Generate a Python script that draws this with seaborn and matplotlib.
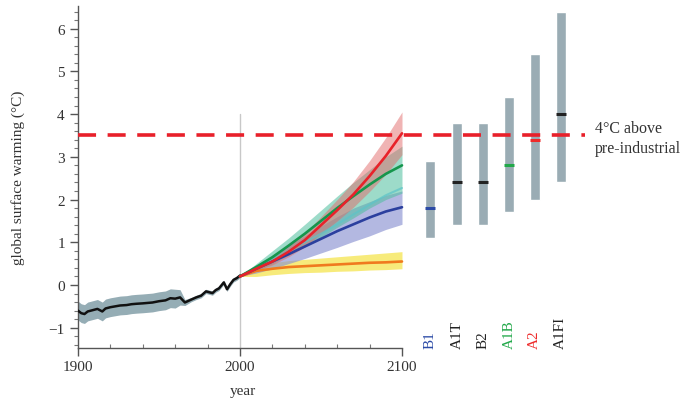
import numpy as np
import pandas as pd
import matplotlib
matplotlib.use("Agg")
import matplotlib.pyplot as plt
import seaborn as sns

sns.set_theme(style="white")
plt.rcParams['font.family'] = ['Liberation Serif', 'DejaVu Serif']

# ---------------- data ----------------
hist_years = [1900, 1902, 1904, 1906, 1908, 1910, 1912, 1915, 1917, 1920, 1923, 1926, 1930,
              1933, 1936, 1940, 1943, 1946, 1950, 1954, 1957, 1960, 1963, 1966, 1970,
              1973, 1976, 1979, 1983, 1985, 1987, 1990, 1992, 1994, 1996, 1998, 2000]
hist_vals = [-0.60, -0.66, -0.68, -0.62, -0.60, -0.58, -0.56, -0.62, -0.55, -0.52, -0.50, -0.48, -0.47,
             -0.45, -0.44, -0.43, -0.42, -0.41, -0.38, -0.36, -0.31, -0.32, -0.29, -0.41, -0.34,
             -0.29, -0.25, -0.15, -0.19, -0.12, -0.08, 0.06, -0.10, 0.02, 0.12, 0.16, 0.22]
hist_band = [0.22] * 22 + [0.18, 0.07] + [0.05] * 13

proj_years = [2000, 2010, 2020, 2030, 2040, 2050, 2060, 2070, 2080, 2090, 2100]
a2_mean = [0.20, 0.38, 0.55, 0.78, 1.05, 1.40, 1.75, 2.12, 2.55, 3.02, 3.55]
a2_lo = [0.20, 0.33, 0.47, 0.66, 0.89, 1.20, 1.50, 1.82, 2.19, 2.59, 3.05]
a2_hi = [0.20, 0.43, 0.63, 0.90, 1.21, 1.60, 2.00, 2.42, 2.91, 3.45, 4.05]
a1b_mean = [0.20, 0.42, 0.65, 0.92, 1.20, 1.50, 1.80, 2.08, 2.35, 2.60, 2.80]
a1b_lo = [0.20, 0.33, 0.50, 0.70, 0.90, 1.12, 1.35, 1.57, 1.80, 2.00, 2.15]
a1b_hi = [0.20, 0.50, 0.80, 1.10, 1.42, 1.75, 2.08, 2.40, 2.70, 3.00, 3.25]
b1_mean = [0.20, 0.38, 0.55, 0.72, 0.90, 1.08, 1.26, 1.42, 1.58, 1.72, 1.82]
b1_lo = [0.20, 0.28, 0.38, 0.50, 0.62, 0.75, 0.88, 1.02, 1.15, 1.30, 1.42]
b1_hi = [0.20, 0.45, 0.70, 0.93, 1.15, 1.38, 1.60, 1.80, 1.95, 2.10, 2.20]
mid_line = [0.20, 0.40, 0.60, 0.80, 1.00, 1.20, 1.42, 1.65, 1.88, 2.10, 2.27]
const_mean = [0.20, 0.33, 0.38, 0.42, 0.44, 0.46, 0.48, 0.50, 0.52, 0.53, 0.55]
const_lo = [0.20, 0.20, 0.24, 0.27, 0.29, 0.30, 0.32, 0.33, 0.35, 0.36, 0.38]
const_hi = [0.20, 0.45, 0.52, 0.57, 0.60, 0.63, 0.66, 0.69, 0.72, 0.75, 0.78]

scenarios = ["B1", "A1T", "B2", "A1B", "A2", "A1FI"]
scen_x = [2117, 2134, 2150, 2166, 2182, 2198]
scen_low = [1.1, 1.4, 1.4, 1.7, 2.0, 2.4]
scen_high = [2.9, 3.8, 3.8, 4.4, 5.4, 6.4]
scen_best = [1.8, 2.4, 2.4, 2.8, 3.4, 4.0]
scen_colors = ["#2b4aa6", "#222222", "#222222", "#22a84a", "#ee2a2a", "#222222"]

threshold = 3.5
yticks = [-1, 0, 1, 2, 3, 4, 5, 6]
xticks = [1900, 2000, 2100]

# ---------------- figure ----------------
W, H = 693, 402
fig = plt.figure(figsize=(W / 100, H / 100), dpi=100)
ax = fig.add_axes([78 / W, (H - 349) / H, (W - 78) / W, (349 - 7) / H])
ax.set_facecolor("white")

x_per_px = 1 / 1.62
ax.set_xlim(1900, 1900 + (W - 78) * x_per_px)
ax.set_ylim(-1.475, 6.53)

# historical
hdf = pd.DataFrame({"year": hist_years, "temp": hist_vals})
hb = np.array(hist_band)
ax.fill_between(hist_years, np.array(hist_vals) - hb, np.array(hist_vals) + hb,
                color="#8aa4ad", alpha=0.9, lw=0, zorder=2)
sns.lineplot(data=hdf, x="year", y="temp", ax=ax, color="#111111", lw=1.8, zorder=5)

# projection bands
ax.fill_between(proj_years, const_lo, const_hi, color="#f6e65a", alpha=0.8, lw=0, zorder=2)
ax.fill_between(proj_years, b1_lo, b1_hi, color="#8a92d2", alpha=0.65, lw=0, zorder=2)
ax.fill_between(proj_years, a1b_lo, a1b_hi, color="#4dbf9e", alpha=0.55, lw=0, zorder=3)
ax.fill_between(proj_years, a2_lo, a2_hi, color="#e26a6a", alpha=0.5, lw=0, zorder=3)

pdf = pd.DataFrame({"year": proj_years * 4,
                    "temp": const_mean + b1_mean + a1b_mean + a2_mean,
                    "series": ["const"] * 11 + ["B1"] * 11 + ["A1B"] * 11 + ["A2"] * 11})
pal = {"const": "#f07a1e", "B1": "#2b3f9e", "A1B": "#15964c", "A2": "#e8222a"}
ax.plot(proj_years, mid_line, color="#5cc4c8", lw=1.5, alpha=0.7, zorder=4)
sns.lineplot(data=pdf, x="year", y="temp", hue="series", palette=pal, ax=ax,
             lw=1.9, legend=False, zorder=6)

# vertical grey line at 2000
ax.plot([2000, 2000], [-1.475, 4.0], color="#c8c8c8", lw=1.0, zorder=1)

# threshold line
ax.plot([1900, 2213], [threshold, threshold], color="#e8202a", lw=2.6,
        dashes=(5, 3.2), zorder=7)
ax.text(2219, threshold - 0.06, "4°C above\npre-industrial", fontsize=11.5,
        color="#333333", va="center", ha="left", linespacing=1.3)

# scenario bars
bdf = pd.DataFrame({"scenario": scenarios, "x": scen_x, "low": scen_low,
                    "high": scen_high, "best": scen_best})
ax.bar(bdf["x"], bdf["high"] - bdf["low"], bottom=bdf["low"], width=6.2,
       color="#9aacb4", zorder=4)
for x, b, c in zip(scen_x, scen_best, scen_colors):
    ax.plot([x - 3.1, x + 3.1], [b, b], color=c, lw=2.2, solid_capstyle="butt", zorder=8)
for x, s, c in zip(scen_x, scenarios, scen_colors):
    ax.text(x, -1.47, s, rotation=90, ha="center", va="bottom", fontsize=11, color=c)

# axes styling
sns.despine(ax=ax, top=True, right=True)
ax.spines["bottom"].set_bounds(1900, 2100)
ax.spines["left"].set_bounds(-1.475, 6.53)
for sp in ("left", "bottom"):
    ax.spines[sp].set_color("#555555")
    ax.spines[sp].set_linewidth(1.0)
ax.set_xticks(xticks)
ax.set_xticks([y for y in range(1920, 2100, 20)], minor=True)
ax.set_yticks(yticks)
ax.set_yticks([v / 5 for v in range(-7, 33) if v % 5 != 0], minor=True)
ax.set_yticklabels(["−1" if v == -1 else str(v) for v in yticks])
ax.tick_params(axis="both", which="both", bottom=True, left=True, top=False, right=False)
ax.tick_params(axis="both", which="major", direction="out", length=6, width=1.0,
               color="#555555", labelsize=11, labelcolor="#333333")
ax.tick_params(axis="y", which="minor", direction="out", length=3, width=0.8, color="#777777")
ax.tick_params(axis="x", which="minor", direction="in", length=3, width=0.8, color="#777777")
ax.tick_params(axis="x", which="major", pad=3)
ax.set_xlabel("")
ax.set_ylabel("")

fig.text(18 / W, 1 - 178 / H, "global surface warming (°C)", rotation=90,
         ha="center", va="center", fontsize=11, color="#333333")
fig.text(243 / W, 1 - 392 / H, "year", ha="center", va="center", fontsize=11, color="#333333")

fig.savefig("out.png", dpi=100, facecolor="white")
